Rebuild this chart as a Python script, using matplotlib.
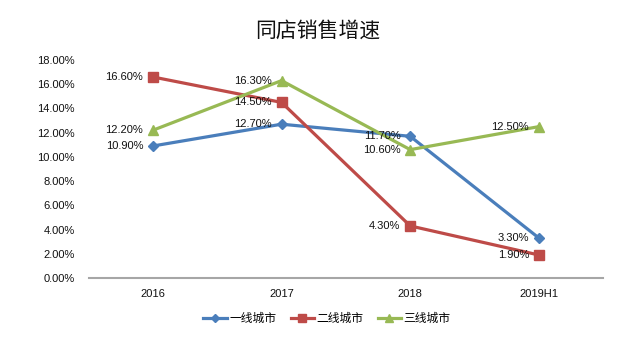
import matplotlib
matplotlib.use("Agg")
import matplotlib.pyplot as plt
from matplotlib.ticker import FuncFormatter, MultipleLocator

plt.rcParams['font.family'] = ['Liberation Sans', 'Noto Sans CJK SC', 'DejaVu Sans']

categories = ["2016", "2017", "2018", "2019H1"]
tier1 = [10.9, 12.7, 11.7, 3.3]
tier2 = [16.6, 14.5, 4.3, 1.9]
tier3 = [12.2, 16.3, 10.6, 12.5]
series_names = ["一线城市", "二线城市", "三线城市"]
title = "同店销售增速"

colors = ["#4A7EBB", "#BE4B48", "#98B954"]
markers = ["D", "s", "^"]
msizes = [5, 7, 7]

fig = plt.figure(figsize=(6.35, 3.52), dpi=100)
ax = fig.add_axes([0.1394, 0.2102, 0.8106, 0.6193])

x = list(range(len(categories)))
for vals, name, c, m, ms in zip([tier1, tier2, tier3], series_names, colors, markers, msizes):
    ax.plot(x, vals, color=c, lw=2.3, marker=m, markersize=ms, label=name, zorder=3)
    for xi, v in zip(x, vals):
        ax.annotate(f"{v:.2f}%", (xi, v), xytext=(-7, 0), textcoords="offset points",
                    ha="right", va="center", fontsize=8, color="#111111", zorder=4)

ax.set_xlim(-0.5, len(categories) - 0.5)
ax.set_ylim(0, 18)
ax.yaxis.set_major_locator(MultipleLocator(2))
ax.yaxis.set_major_formatter(FuncFormatter(lambda v, p: f"{v:.2f}%"))
ax.set_xticks(x)
ax.set_xticklabels(categories)
ax.tick_params(axis="both", length=0, labelsize=8, colors="#111111")
ax.tick_params(axis="x", pad=8)
ax.tick_params(axis="y", pad=10)
for s in ["top", "right", "left"]:
    ax.spines[s].set_visible(False)
ax.spines["bottom"].set_color("#A6A6A6")
ax.spines["bottom"].set_linewidth(1.5)

fig.text(0.5, 0.912, title, ha="center", va="center", fontsize=15,
         family=['Noto Sans CJK SC', 'DejaVu Sans'], color="#111111")

leg = fig.legend(loc="center", bbox_to_anchor=(0.515, 0.095), ncol=3, frameon=False,
                 prop={'family': ['Noto Sans CJK SC', 'DejaVu Sans'], 'size': 8.5},
                 handlelength=2.0, columnspacing=1.2, handletextpad=0.2, markerscale=0.8)

fig.savefig("out.png", dpi=100, facecolor="white")
